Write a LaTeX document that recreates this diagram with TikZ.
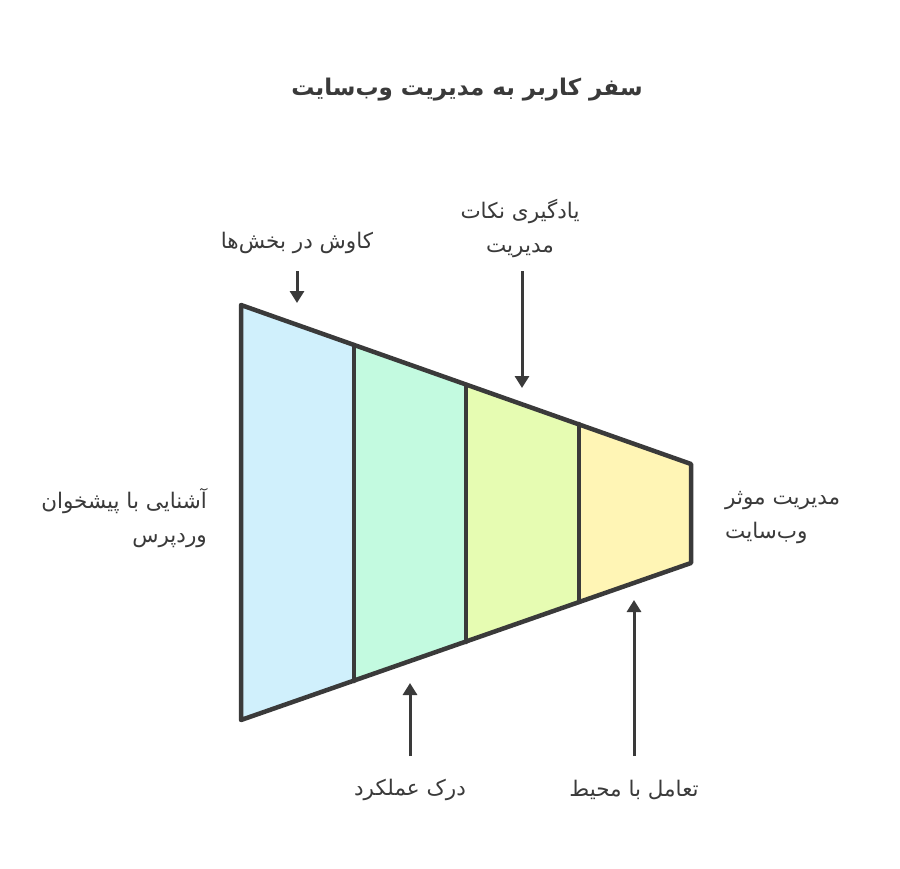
\documentclass[tikz,border=0pt]{standalone}
\usepackage{fontspec}
\newfontfamily\arabicfont[Script=Arabic]{DejaVu Sans}
\TeXXeTstate=1
\usetikzlibrary{arrows.meta}
\definecolor{ink}{HTML}{3A3A3A}
\definecolor{cblue}{HTML}{D0F0FC}
\definecolor{cmint}{HTML}{C3FAE0}
\definecolor{clime}{HTML}{E6FCB2}
\definecolor{cyel}{HTML}{FFF5B5}
\tikzset{
  edge/.style={draw=ink, line width=4.5pt, line join=round, line cap=round},
  pointer/.style={draw=ink, line width=3pt, -{Triangle[length=12pt,width=14pt]}},
  lbl/.style={text=ink, font=\arabicfont\fontsize{21.5}{34}\selectfont, inner sep=0pt},
  ttl/.style={text=ink, font=\arabicfont\bfseries\fontsize{23}{30}\selectfont, inner sep=0pt}
}
\begin{document}
\begin{tikzpicture}[x=1pt,y=-1pt]
\useasboundingbox[fill=white] (0,0) rectangle (900,868);
% funnel corners
\coordinate (TL) at (241,305);
\coordinate (BL) at (241,720);
\coordinate (T1) at (354,345);
\coordinate (B1) at (354,681);
\coordinate (T2) at (466,385);
\coordinate (B2) at (466,642);
\coordinate (T3) at (579,424);
\coordinate (B3) at (579,602);
\coordinate (TR) at (691,464);
\coordinate (BR) at (691,563);
% fills
\fill[cblue] (TL) -- (T1) -- (B1) -- (BL) -- cycle;
\fill[cmint] (T1) -- (T2) -- (B2) -- (B1) -- cycle;
\fill[clime] (T2) -- (T3) -- (B3) -- (B2) -- cycle;
\fill[cyel] (T3) -- (TR) -- (BR) -- (B3) -- cycle;
% outline
\path[edge] (TL) -- (TR) -- (BR) -- (BL) -- cycle;
\path[edge] (T1) -- (B1);
\path[edge] (T2) -- (B2);
\path[edge] (T3) -- (B3);
% title
\node[ttl] (title) at (467,90) {\beginR سفر کاربر به مدیریت وب^^^^200cسایت\endR};
% labels
\node[lbl] (explore) at (297,243) {\beginR کاوش در بخش^^^^200cها\endR};
\node[lbl, align=center] (learn) at (520,228) {\beginR یادگیری نکات\endR\\\beginR مدیریت\endR};
\node[lbl, align=right, anchor=east] (intro) at (207,518) {\beginR آشنایی با پیشخوان\endR\\\beginR وردپرس\endR};
\node[lbl, align=left, anchor=west] (manage) at (725,518) {\beginR مدیریت موثر\endR\\\beginR وب^^^^200cسایت\endR};
\node[lbl] (perf) at (410,790) {\beginR درک عملکرد\endR};
\node[lbl] (env) at (634,790) {\beginR تعامل با محیط\endR};
% pointer ends
\coordinate (a1s) at (297,271);
\coordinate (a1e) at (297,303);
\coordinate (a2s) at (522,271);
\coordinate (a2e) at (522,388);
\coordinate (a3s) at (410,756);
\coordinate (a3e) at (410,683);
\coordinate (a4s) at (634,756);
\coordinate (a4e) at (634,600);
\draw[pointer] (a1s) -- (a1e);
\draw[pointer] (a2s) -- (a2e);
\draw[pointer] (a3s) -- (a3e);
\draw[pointer] (a4s) -- (a4e);
\end{tikzpicture}
\end{document}
